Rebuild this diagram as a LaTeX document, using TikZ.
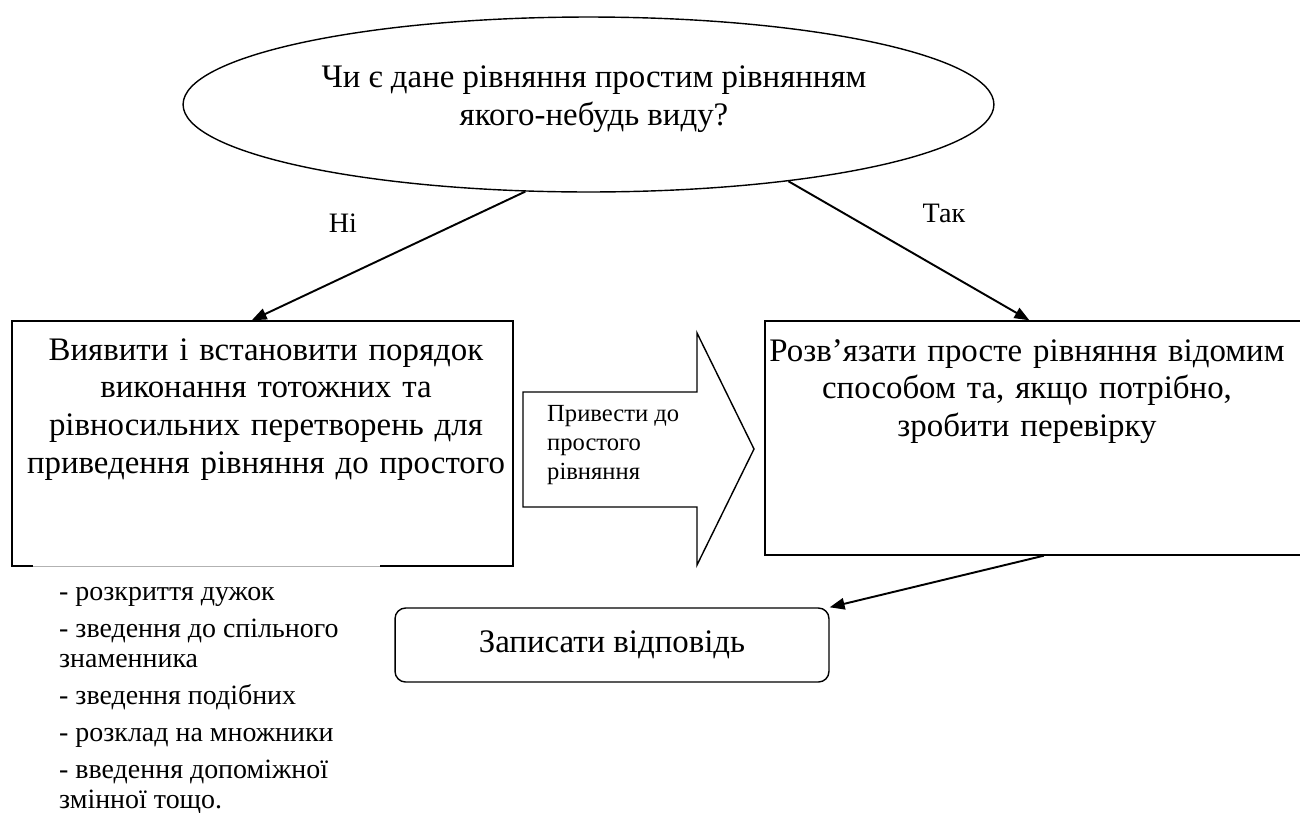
\documentclass[tikz,border=0pt]{standalone}
\usepackage{fontspec}
\setmainfont{Liberation Serif}
\usetikzlibrary{shapes.geometric,arrows.meta}

\tikzset{
  frame/.style={draw, line width=0.8pt, inner sep=0pt},
  oval/.style={ellipse, draw, line width=0.8pt, inner sep=0pt, minimum width=16.22cm, minimum height=3.5cm},
  big/.style={font=\fontsize{18.7}{21.5}\selectfont},
  mid/.style={font=\fontsize{14}{16.4}\selectfont},
  small/.style={font=\fontsize{15.9}{17}\selectfont},
  lbl/.style={font=\fontsize{16}{19}\selectfont},
  lead/.style={-{Triangle[length=8.5pt,width=6.5pt]}, line width=1.1pt},
}

\begin{document}
\begin{tikzpicture}[x=0.02cm, y=-0.02cm]
    \useasboundingbox (0,0) rectangle (1300,812);
    % question
    \node (q) [oval] at (588.5,104.5) {};
    \node (qt) [big, align=center, anchor=base] at (594,125) {Чи є дане рівняння простим рівнянням\\якого-небудь виду?};
    % left and right boxes
    \node (lb) [frame, minimum width=10.02cm, minimum height=4.9cm] at (262.5,443.5) {};
    \node (lt) [big, text width=9.8cm, align=center, anchor=base] at (266,360) {Виявити і встановити порядок\\виконання тотожних та\\рівносильних перетворень для\\приведення рівняння до простого};
    \draw[white, line width=1.2pt] (33,566) -- (380,566);
    \draw[gray!60, line width=0.5pt] (33,566) -- (380,566);
    \node (rb) [frame, minimum width=10.74cm, minimum height=4.68cm] at (1033.5,438) {};
    \node (rt) [big, text width=10.6cm, align=center, anchor=base] at (1027,361) {Розв’язати просте рівняння відомим\\способом та, якщо потрібно,\\зробити перевірку};
    % block arrow
    \draw[line width=0.8pt] (523,392) -- (697,392) -- (697,333) -- (754,449) -- (697,565) -- (697,507) -- (523,507) -- cycle;
    \node (at) [mid, align=left, anchor=base west] at (541,479) {Привести до\\простого\\рівняння};
    % answer
    \node (ans) [frame, rounded corners=6pt, minimum width=8.68cm, minimum height=1.48cm, big] at (612,645) {Записати відповідь};
    \node (tips) [small, align=left, anchor=base west] at (53,808) {- розкриття дужок\\[4pt]- зведення до спільного\\знаменника\\[4pt]- зведення подібних\\[4pt]- розклад на множники\\[4pt]- введення допоміжної\\змінної тощо.};
    \node (no) [lbl] at (343,223) {Ні};
    \node (yes) [lbl] at (944,213) {Так};
    \draw[lead] (q.-126.3) -- (lb.95.8);
    \draw[lead] (q.-21) -- (rb.92.7);
    \draw[lead] (rb.-85.4) -- (ans.north east);
\end{tikzpicture}
\end{document}
